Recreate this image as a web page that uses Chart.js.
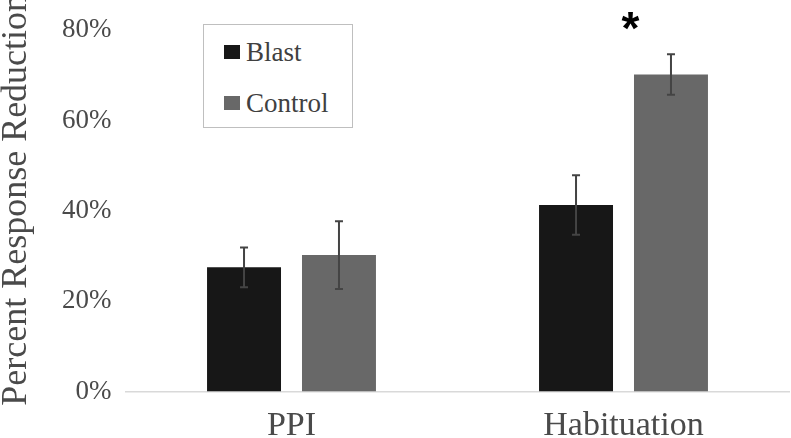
<!DOCTYPE html>
<html>
<head>
<meta charset="utf-8">
<script src="https://cdn.jsdelivr.net/npm/chart.js@4.4.1/dist/chart.umd.min.js"></script>
<style>
  html, body { margin: 0; padding: 0; background: #fff; }
  #wrap { position: relative; width: 791px; height: 438px; }
  #legend {
    position: absolute; left: 203px; top: 24px; width: 148px; height: 102px;
    border: 1.5px solid #bfbfbf; background: #fff;
  }
  .item {
    position: absolute; left: 20px; height: 30px; display: flex; align-items: center;
    font-family: "Liberation Serif", "Times New Roman", serif; font-size: 27px; color: #404040;
  }
  .swatch { width: 16px; height: 14px; margin-right: 6px; }
</style>
</head>
<body>
<div id="wrap">
  <canvas id="chart" width="791" height="438"></canvas>
  <div id="legend"></div>
</div>
<script>
const categories = ["PPI", "Habituation"];
const seriesNames = ["Blast", "Control"];
const seriesColors = ["#171717", "#686868"];
const blastValues = [27.5, 41.3];
const controlValues = [30.2, 70.2];
const blastErrors = [4.4, 6.6];
const controlErrors = [7.5, 4.5];
const yTicks = [0, 20, 40, 60, 80];
const sigMarks = [{ category: 1, value: 81, text: "*" }];
const yTitle = "Percent Response Reduction";

const errors = [blastErrors, controlErrors];
const textColor = "#4a4a4a";
const serif = "'Liberation Serif', 'Times New Roman', serif";

// legend (html, sits inside the plot)
const legend = document.getElementById("legend");
seriesNames.forEach((name, i) => {
  const item = document.createElement("div");
  item.className = "item";
  item.style.top = (i === 0 ? 12 : 63) + "px";
  item.innerHTML = `<span class="swatch" style="background:${seriesColors[i]}"></span><span>${name}</span>`;
  legend.appendChild(item);
});

const errorBars = {
  id: "errorBars",
  afterDatasetsDraw(chart) {
    const { ctx, scales: { y } } = chart;
    ctx.save();
    ctx.strokeStyle = "#444";
    ctx.lineWidth = 2;
    chart.data.datasets.forEach((ds, di) => {
      chart.getDatasetMeta(di).data.forEach((bar, i) => {
        const v = ds.data[i], e = errors[di][i];
        const top = y.getPixelForValue(v + e), bot = y.getPixelForValue(v - e);
        ctx.beginPath();
        ctx.moveTo(bar.x, top); ctx.lineTo(bar.x, bot);
        ctx.moveTo(bar.x - 4, top); ctx.lineTo(bar.x + 4, top);
        ctx.moveTo(bar.x - 4, bot); ctx.lineTo(bar.x + 4, bot);
        ctx.stroke();
      });
    });
    ctx.restore();
  },
};

// asterisk + y title (title sits a bit above the axis middle, as in the original)
const extras = {
  id: "extras",
  afterDraw(chart) {
    const { ctx, scales: { x, y } } = chart;
    ctx.save();
    ctx.fillStyle = "#000";
    ctx.font = "bold 46px 'Liberation Sans', Arial, sans-serif";
    ctx.textAlign = "center";
    ctx.textBaseline = "middle";
    sigMarks.forEach((m) => {
      ctx.fillText(m.text, x.getPixelForValue(m.category) + 7, y.getPixelForValue(m.value) + 6);
    });
    ctx.translate(17, (y.top + y.bottom) / 2 - 11);
    ctx.rotate(-Math.PI / 2);
    ctx.fillStyle = textColor;
    ctx.font = "36px " + serif;
    ctx.fillText(yTitle, 0, 0);
    ctx.restore();
  },
};

Chart.defaults.font.family = serif;

new Chart(document.getElementById("chart"), {
  type: "bar",
  data: {
    labels: categories,
    datasets: [
      { label: seriesNames[0], data: blastValues, backgroundColor: seriesColors[0] },
      { label: seriesNames[1], data: controlValues, backgroundColor: seriesColors[1] },
    ],
  },
  options: {
    responsive: false,
    animation: false,
    layout: { padding: { top: 28, right: 1.5 } },
    datasets: { bar: { categoryPercentage: 0.572, barPercentage: 0.779 } },
    plugins: { legend: { display: false }, tooltip: { enabled: false } },
    scales: {
      x: {
        grid: { display: false, drawTicks: false },
        border: { display: true, color: "#d9d9d9", width: 1.5 },
        ticks: { font: { size: 34, lineHeight: 1 }, color: textColor, padding: 17.5 },
        afterFit: (s) => { s.height = 46.5; },
      },
      y: {
        min: 0,
        max: 80,
        afterBuildTicks: (s) => { s.ticks = yTicks.map((v) => ({ value: v })); },
        grid: { display: false, drawTicks: false },
        border: { display: false },
        ticks: { font: { size: 27 }, color: textColor, padding: 14, callback: (v) => v + "%" },
        afterFit: (s) => { s.width = 125.5; },
      },
    },
  },
  plugins: [errorBars, extras],
});
</script>
</body>
</html>
